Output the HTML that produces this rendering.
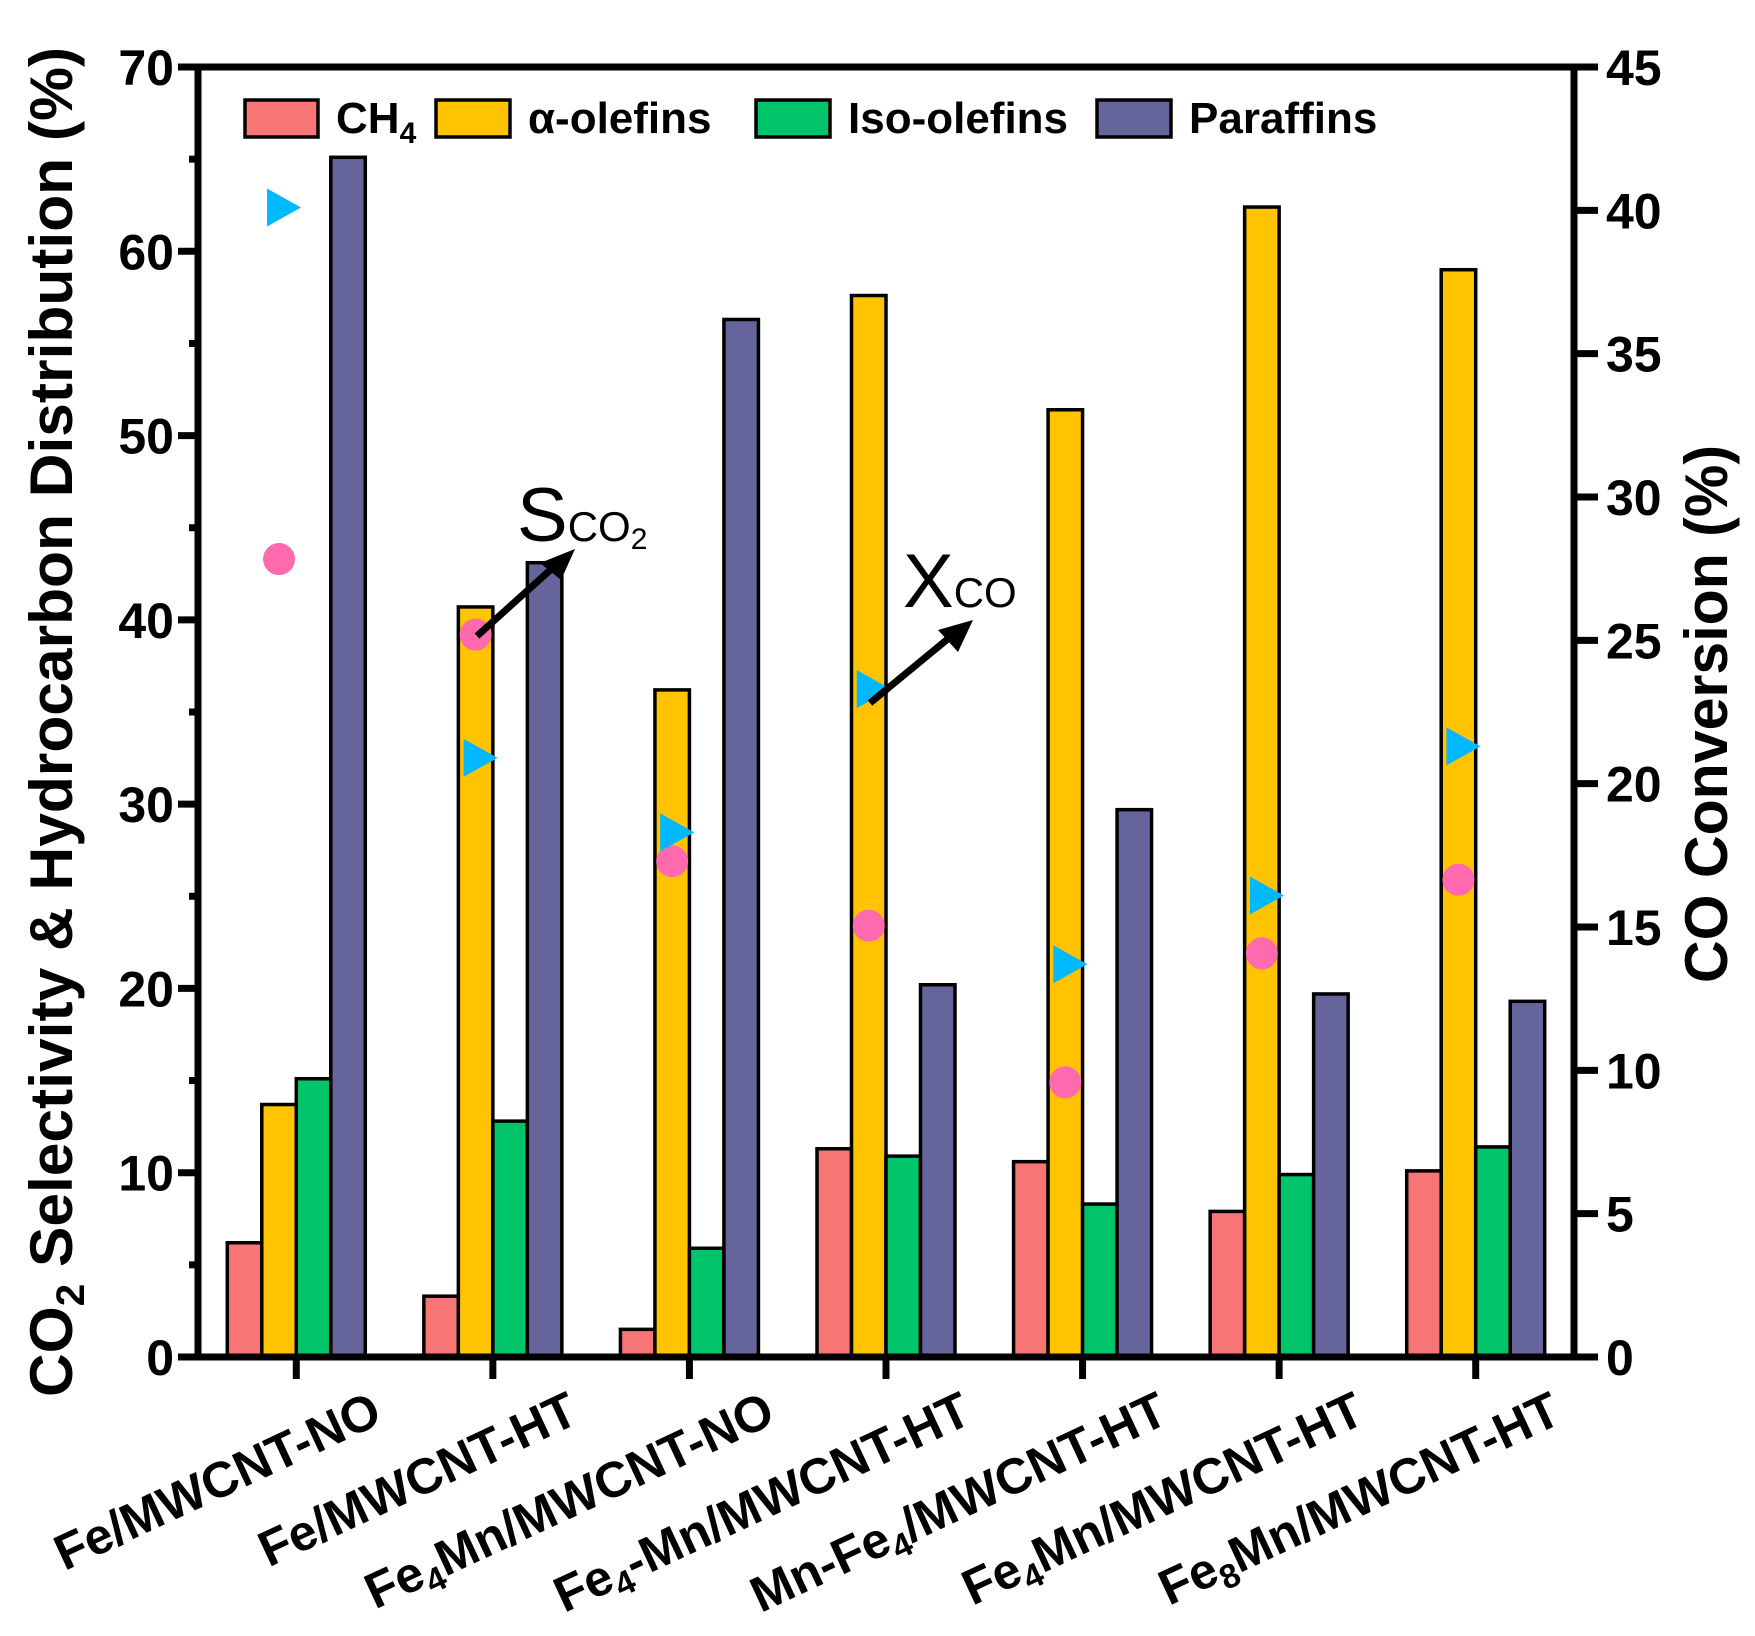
<!DOCTYPE html>
<html><head><meta charset="utf-8"><style>
html,body{margin:0;padding:0;background:#fff;}
svg{display:block;font-family:"Liberation Sans",Arial,sans-serif;}
</style></head><body>
<svg id="chart" width="1755" height="1636" viewBox="0 0 1755 1636"></svg>
<script>
const categories = ["Fe/MWCNT-NO","Fe/MWCNT-HT","Fe4Mn/MWCNT-NO","Fe4-Mn/MWCNT-HT","Mn-Fe4/MWCNT-HT","Fe4Mn/MWCNT-HT","Fe8Mn/MWCNT-HT"];
const ch4 = [6.2, 3.3, 1.5, 11.3, 10.6, 7.9, 10.1];
const alphaOlefins = [13.7, 40.7, 36.2, 57.6, 51.4, 62.4, 59.0];
const isoOlefins = [15.1, 12.8, 5.9, 10.9, 8.3, 9.9, 11.4];
const paraffins = [65.1, 43.1, 56.3, 20.2, 29.7, 19.7, 19.3];
const sCO2 = [43.3, 39.2, 26.9, 23.4, 14.9, 21.9, 25.9];
const xCO = [40.1, 20.9, 18.3, 23.3, 13.7, 16.1, 21.3];
const leftTicks = [0,10,20,30,40,50,60,70];
const rightTicks = [0,5,10,15,20,25,30,35,40,45];

const NS="http://www.w3.org/2000/svg";
const svg=document.getElementById('chart');
const X0=198, X1=1574, Y0=1357, Y1=67;
const yL=v=>Y0-(v/70)*(Y0-Y1);
const yR=v=>Y0-(v/45)*(Y0-Y1);
const gw=(X1-X0)/categories.length;
const xc=i=>X0+gw*(i+0.5);
const BW=34.5;
function mk(tag,attrs,parent){const e=document.createElementNS(NS,tag);for(const k in attrs)e.setAttribute(k,attrs[k]);(parent||svg).appendChild(e);return e;}

const series=[{d:ch4,c:"#F87575",n:"ch4"},{d:alphaOlefins,c:"#FFC300",n:"alpha-olefins"},{d:isoOlefins,c:"#00C46A",n:"iso-olefins"},{d:paraffins,c:"#65659B",n:"paraffins"}];
series.forEach((s,si)=>{s.d.forEach((v,i)=>{
  const x=xc(i)-2*BW+si*BW;
  const r=mk('rect',{x:x,y:yL(v),width:BW,height:Y0-yL(v),fill:s.c,stroke:"#000","stroke-width":3.5});
  
  
});});

sCO2.forEach((v,i)=>{
  const c=mk('circle',{cx:xc(i)-BW/2,cy:yL(v),r:16,fill:"#FF69AD"});
  
  
});
xCO.forEach((v,i)=>{
  const x=xc(i)-BW/2, y=yR(v);
  const p=mk('polygon',{points:`${x-12},${y-19} ${x+22},${y} ${x-12},${y+19}`,fill:"#00B8FF"});
  
  
});

const ax=mk('g',{stroke:"#000","stroke-width":7,fill:"none"});


mk('path',{d:`M${X0},${Y0} H${X1} M${X0},${Y0+3} V${Y1} M${X0-20},${Y1} H${X1+24} M${X1},${Y1} V${Y0+3}`},ax);
leftTicks.forEach(v=>{mk('line',{x1:X0-20,x2:X0,y1:yL(v),y2:yL(v)},ax);
  const t=mk('text',{x:174,y:yL(v)+18,'text-anchor':'end','font-size':50,'font-weight':'bold',fill:'#000',stroke:'none'});t.textContent=v;
  
  
  if(v<70) mk('line',{x1:X0-9,x2:X0,y1:yL(v+5),y2:yL(v+5)},ax);});
rightTicks.forEach(v=>{mk('line',{x1:X1,x2:X1+24,y1:yR(v),y2:yR(v)},ax);
  const t=mk('text',{x:1606,y:yR(v)+18,'font-size':50,'font-weight':'bold',fill:'#000',stroke:'none'});t.textContent=v;
  
  });
categories.forEach((c,i)=>{mk('line',{x1:xc(i),x2:xc(i),y1:Y0,y2:Y0+22},ax);
  const t=mk('text',{'text-anchor':'end','font-size':50,'font-weight':'bold',fill:'#000',stroke:'none',transform:`translate(${xc(i)+88},${1422}) rotate(-25)`});
  const m=c.match(/^(.*?Fe)(\d)(.*)$/);
  if(m){t.appendChild(document.createTextNode(m[1]));const s=mk('tspan',{'font-size':34,dy:10},t);s.textContent=m[2];const r=mk('tspan',{dy:-10},t);r.textContent=m[3];}
  else t.textContent=c;
  
  });
</script>
<svg style="position:absolute;left:0;top:0" width="1755" height="1636">
<g font-family="Liberation Sans, Arial, sans-serif" font-weight="bold" font-size="44">
 <rect x="245" y="100" width="73" height="37" fill="#F87575" stroke="#000" stroke-width="3.5"/>
 <text x="336" y="133">CH<tspan font-size="30" dy="10">4</tspan></text>
 <rect x="436" y="100" width="74" height="37" fill="#FFC300" stroke="#000" stroke-width="3.5"/>
 <text x="528" y="133">α-olefins</text>
 <rect x="756" y="100" width="74" height="37" fill="#00C46A" stroke="#000" stroke-width="3.5"/>
 <text x="848" y="133">Iso-olefins</text>
 <rect x="1097" y="100" width="74" height="37" fill="#65659B" stroke="#000" stroke-width="3.5"/>
 <text x="1189" y="133">Paraffins</text>
</g>
<text transform="translate(72,722) rotate(-90)" text-anchor="middle" font-family="Liberation Sans, Arial, sans-serif" font-weight="bold" font-size="60" textLength="1350" lengthAdjust="spacingAndGlyphs">CO<tspan font-size="40" dy="12">2</tspan><tspan dy="-12"> Selectivity &amp; Hydrocarbon Distribution (%)</tspan></text>
<text transform="translate(1727,714) rotate(-90)" text-anchor="middle" font-family="Liberation Sans, Arial, sans-serif" font-weight="bold" font-size="60" textLength="538" lengthAdjust="spacingAndGlyphs">CO Conversion (%)</text>
<g font-family="Liberation Sans, Arial, sans-serif">
 <text x="517" y="541" font-size="76">S<tspan font-size="42">CO</tspan><tspan font-size="30" dy="8">2</tspan></text>
 <line x1="477" y1="636" x2="558" y2="563" stroke="#000" stroke-width="7"/>
 <polygon points="575,549 540,563 561,580" fill="#000"/>
</g>
<g font-family="Liberation Sans, Arial, sans-serif">
 <text x="903" y="607" font-size="76">X<tspan font-size="42">CO</tspan></text>
 <line x1="870" y1="703" x2="955" y2="633" stroke="#000" stroke-width="7"/>
 <polygon points="973,620 938,630 958,652" fill="#000"/>
</g>
</svg>
</body></html>
